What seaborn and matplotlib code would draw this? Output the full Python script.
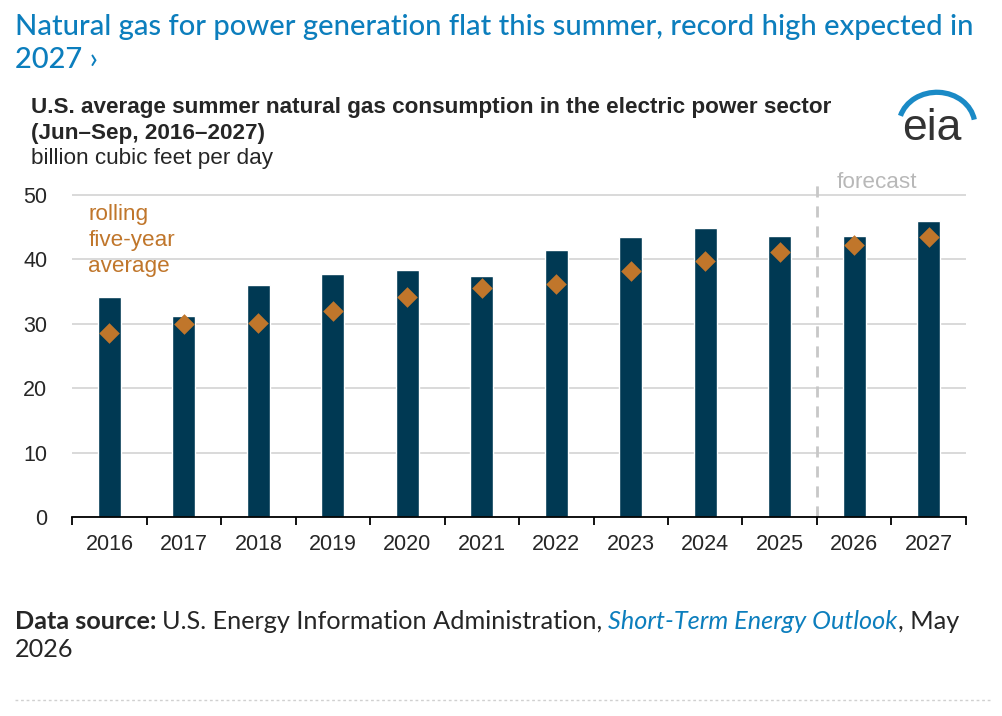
import matplotlib.pyplot as plt
import seaborn as sns
import pandas as pd
from matplotlib.patches import Arc
from matplotlib.lines import Line2D

# datos
years = ['2016', '2017', '2018', '2019', '2020', '2021',
         '2022', '2023', '2024', '2025', '2026', '2027']
consumo = [34.2, 31.2, 36.0, 37.7, 38.3, 37.4, 41.4, 43.5, 44.9, 43.6, 43.6, 46.0]
promedio_5 = [28.5, 30.0, 30.1, 31.9, 34.2, 35.5, 36.1, 38.2, 39.8, 41.1, 42.2, 43.5]
yticks = [0, 10, 20, 30, 40, 50]
forecast_start = '2026'

bar_color = '#003953'
dot_color = '#c0762b'
blue = '#0c7ebd'

df = pd.DataFrame({'year': years, 'consumo': consumo, 'promedio': promedio_5})

sns.set_style('white')
plt.rcParams['font.family'] = ['Liberation Sans', 'DejaVu Sans']

fig = plt.figure(figsize=(10.02, 7.16), dpi=100)
ax = fig.add_axes([0.072, 0.278, 0.892, 0.475])

sns.barplot(data=df, x='year', y='consumo', color=bar_color, width=0.31,
            saturation=1, ax=ax, zorder=2)
sns.stripplot(data=df, x='year', y='promedio', jitter=False, marker='D',
              color=dot_color, size=10.5, linewidth=0, ax=ax, zorder=3)

ax.set_ylim(0, 52.8)
ax.set_xlim(-0.5, len(years) - 0.5)
ax.set_yticks(yticks)
ax.yaxis.grid(True, color='#d9d9d9', linewidth=1.4, zorder=0)
ax.set_axisbelow(True)
for s in ['top', 'right', 'left']:
    ax.spines[s].set_visible(False)
ax.spines['bottom'].set_color('black')
ax.spines['bottom'].set_linewidth(1.3)
ax.set_xlabel('')
ax.set_ylabel('')

# marcas entre categorias
ax.set_xticks([i - 0.5 for i in range(len(years) + 1)], minor=True)
ax.tick_params(axis='x', which='minor', bottom=True, length=6, width=1.3,
               color='black', direction='out')
ax.tick_params(axis='x', which='major', length=0, labelsize=15.5, pad=12)
ax.tick_params(axis='y', length=0, labelsize=15.5, pad=18)

# linea de pronostico
fx = years.index(forecast_start) - 0.5
ax.axvline(fx, color='#c8c8c8', linestyle=(0, (4, 3.2)), linewidth=2, zorder=1)
ax.text(fx + 0.27, 52.0, 'forecast', color='#b8b8b8', fontsize=16.2, va='center', ha='left')

ax.text(-0.285, 42.9, 'rolling\nfive-year\naverage', color=dot_color, fontsize=16.2,
        va='center', ha='left', multialignment='left', linespacing=1.32)

# titulos
fig.text(0.015, 0.981, 'Natural gas for power generation flat this summer, record high expected in\n2027 \u203a',
         color=blue, fontsize=21, family=['Lato', 'DejaVu Sans'], fontweight='medium',
         va='top', ha='left', linespacing=1.37)
fig.text(0.031, 0.864, 'U.S. average summer natural gas consumption in the electric power sector\n(Jun\u2013Sep, 2016\u20132027)',
         fontsize=16.2, fontweight='bold', va='top', ha='left', linespacing=1.3)
fig.text(0.031, 0.778, 'billion cubic feet per day', fontsize=16.2, va='center', ha='left')

# logo eia
fig.text(0.9, 0.804, 'eia', fontsize=32, color='#333333', ha='left', va='baseline')
arc = Arc((0.935, 0.825), 0.0758, 0.0922, theta1=12, theta2=160, color='#1a8ac6',
          linewidth=3.8, transform=fig.transFigure)
fig.add_artist(arc)

# fuente
fam = ['Lato', 'DejaVu Sans']
fs = 18.2
t1 = fig.text(0.015, 0.1215, 'Data source:', fontsize=fs, fontweight='bold', family=fam,
              va='baseline', ha='left')
fig.canvas.draw()
r = fig.canvas.get_renderer()
bb = t1.get_window_extent(r)
x = bb.x1 / fig.bbox.width + 0.005
t2 = fig.text(x, 0.1215, 'U.S. Energy Information Administration, ', fontsize=fs,
              family=fam, va='baseline', ha='left')
bb = t2.get_window_extent(r)
x = bb.x1 / fig.bbox.width
t3 = fig.text(x, 0.1215, 'Short-Term Energy Outlook', fontsize=fs, style='italic',
              color=blue, family=fam, va='baseline', ha='left')
bb = t3.get_window_extent(r)
x = bb.x1 / fig.bbox.width
fig.text(x, 0.1215, ', May', fontsize=fs, family=fam, va='baseline', ha='left')
fig.text(0.015, 0.0824, '2026', fontsize=fs, family=fam, va='baseline', ha='left')

fig.add_artist(Line2D([0.015, 0.99], [0.022, 0.022], color='#d0d0d0', linewidth=1,
                      linestyle=(0, (2, 2)), transform=fig.transFigure))

plt.savefig('out.png', dpi=100)
